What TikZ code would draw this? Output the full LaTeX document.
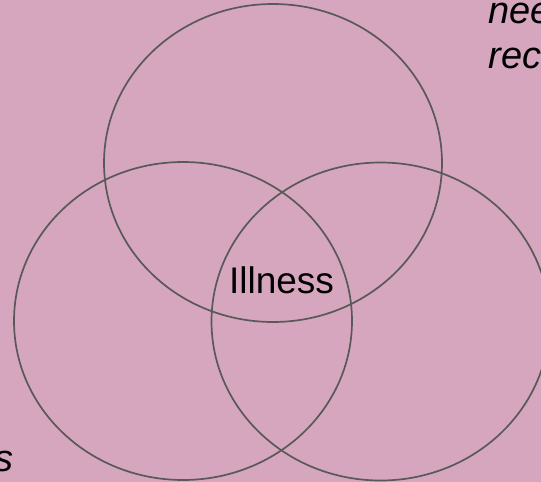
\documentclass[tikz,border=0pt]{standalone}
\usepackage{fontspec}
\setmainfont{Liberation Sans}
\definecolor{bgpink}{HTML}{D5A6BD}
\definecolor{ringgray}{HTML}{595959}
\begin{document}
\begin{tikzpicture}[x=1pt,y=-1pt,
  ring/.style={draw=ringgray,line width=1.7pt},
  lbl/.style={inner sep=0pt,font=\fontsize{37}{44}\selectfont},
  ilbl/.style={lbl,font=\fontsize{38}{44}\selectfont\itshape}]
\useasboundingbox (0,0) rectangle (541,482);
\clip (0,0) rectangle (541,482);
\fill[bgpink] (0,0) rectangle (541,482);
\coordinate (ctop) at (273,163);
\coordinate (cleft) at (183,321);
\coordinate (cright) at (380.5,321.5);
\draw[ring] (ctop) ellipse [x radius=169, y radius=159];
\draw[ring] (cleft) ellipse [x radius=169, y radius=159];
\draw[ring] (cright) ellipse [x radius=169, y radius=159];
\node[lbl,anchor=base] (ill) at (281.5,293.3) {Illness};
\node[ilbl,anchor=base west] (nee) at (488.5,23) {nee};
\node[ilbl,anchor=base west] (rec) at (488.5,68) {rec};
\node[ilbl,anchor=base east] (s) at (14,471) {s};
\end{tikzpicture}
\end{document}
